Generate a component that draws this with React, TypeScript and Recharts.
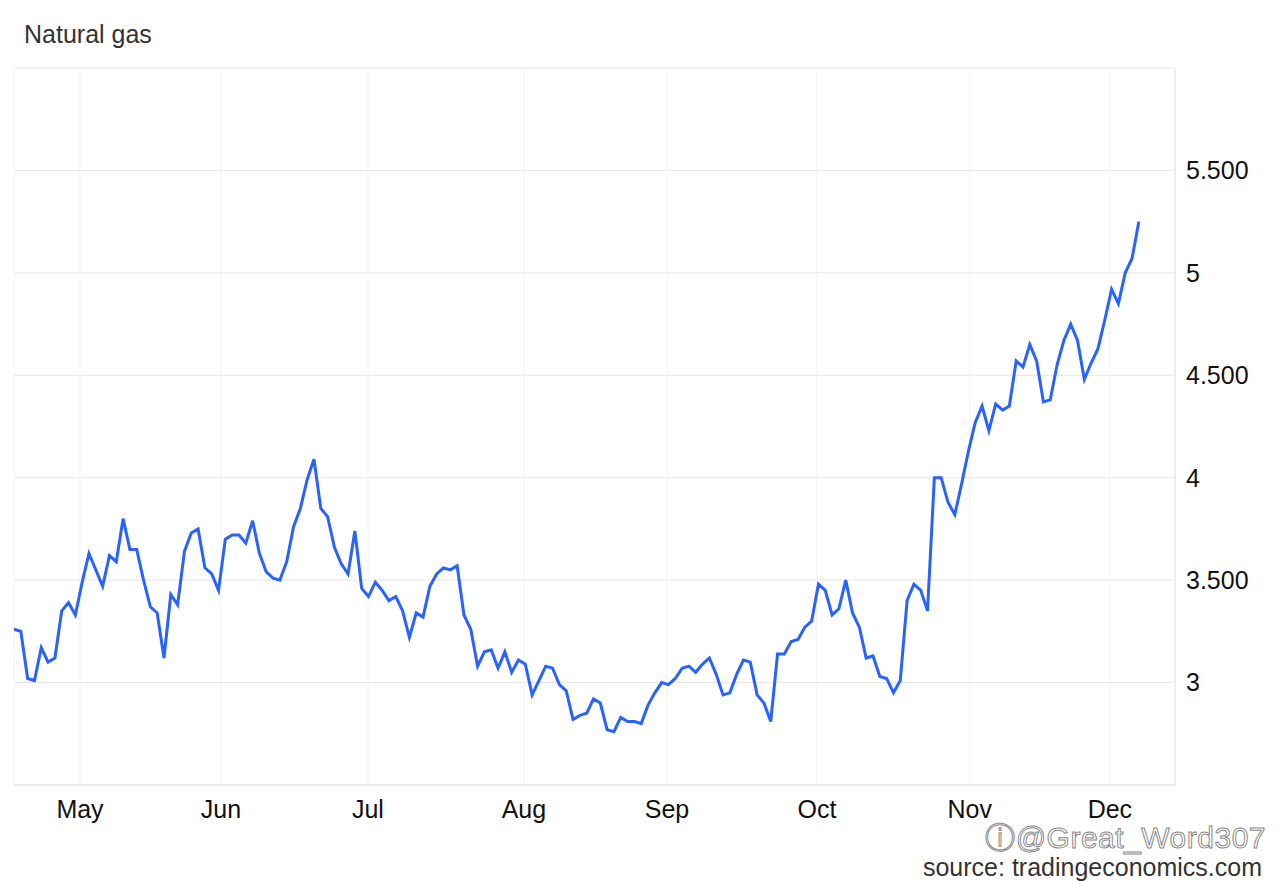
import React from 'react';
import { LineChart, Line, XAxis, YAxis, CartesianGrid } from 'recharts';

const prices: number[] = [
  3.26, 3.25, 3.02, 3.01, 3.17, 3.10, 3.12, 3.35, 3.39, 3.33,
  3.49, 3.63, 3.55, 3.47, 3.62, 3.59, 3.80, 3.65, 3.65, 3.50,
  3.37, 3.34, 3.12, 3.43, 3.38, 3.64, 3.73, 3.75, 3.56, 3.53,
  3.45, 3.70, 3.72, 3.72, 3.68, 3.79, 3.63, 3.54, 3.51, 3.50,
  3.59, 3.76, 3.85, 3.99, 4.09, 3.85, 3.81, 3.66, 3.58, 3.53,
  3.74, 3.46, 3.42, 3.49, 3.45, 3.40, 3.42, 3.35, 3.22, 3.34,
  3.32, 3.47, 3.53, 3.56, 3.55, 3.57, 3.33, 3.26, 3.08, 3.15,
  3.16, 3.07, 3.15, 3.05, 3.11, 3.09, 2.94, 3.01, 3.08, 3.07,
  2.99, 2.96, 2.82, 2.84, 2.85, 2.92, 2.90, 2.77, 2.76, 2.83,
  2.81, 2.81, 2.80, 2.89, 2.95, 3.00, 2.99, 3.02, 3.07, 3.08,
  3.05, 3.09, 3.12, 3.04, 2.94, 2.95, 3.04, 3.11, 3.10, 2.94,
  2.90, 2.81, 3.14, 3.14, 3.20, 3.21, 3.27, 3.30, 3.48, 3.45,
  3.33, 3.36, 3.50, 3.34, 3.27, 3.12, 3.13, 3.03, 3.02, 2.95,
  3.01, 3.40, 3.48, 3.45, 3.35, 4.00, 4.00, 3.88, 3.82, 3.97,
  4.13, 4.27, 4.35, 4.23, 4.36, 4.33, 4.35, 4.57, 4.54, 4.65,
  4.57, 4.37, 4.38, 4.55, 4.67, 4.75, 4.67, 4.48, 4.56, 4.63,
  4.77, 4.92, 4.85, 5.00, 5.07, 5.25,
];

const monthLabels: string[] = ['May', 'Jun', 'Jul', 'Aug', 'Sep', 'Oct', 'Nov', 'Dec'];
const monthTickPos: number[] = [9.68, 30.36, 51.92, 74.8, 95.78, 117.78, 140.2, 160.75];
const yTicks: number[] = [2.5, 3, 3.5, 4, 4.5, 5, 5.5, 6];
const xDomainMax = 170.3;

const data = prices.map((v, i) => ({ i, v }));

const fmtY = (v: number) => {
  if (v === 2.5 || v === 6) return '';
  return Number.isInteger(v) ? String(v) : v.toFixed(3);
};
const fmtX = (v: number) => {
  const k = monthTickPos.indexOf(v);
  return k >= 0 ? monthLabels[k] : '';
};

const font = 'Arial, "Liberation Sans", sans-serif';

export default function App() {
  return (
    <div style={{ position: 'absolute', left: 0, top: 0, width: 1280, height: 887, background: '#fff', fontFamily: font }}>
      <div style={{ position: 'absolute', left: 24, top: 22, fontSize: 25, lineHeight: 1, color: '#333' }}>Natural gas</div>
      <LineChart
        width={1280}
        height={887}
        data={data}
        margin={{ top: 68, right: 25, bottom: 72, left: 14 }}
      >
        <CartesianGrid stroke="#e6e6e6" strokeWidth={1} vertical={false} />
        <CartesianGrid stroke="#eef2f7" strokeWidth={1} horizontal={false} />
        <XAxis
          dataKey="i"
          type="number"
          domain={[0, xDomainMax]}
          ticks={monthTickPos}
          tickFormatter={fmtX}
          tickLine={false}
          axisLine={{ stroke: '#e0e0e0' }}
          tickMargin={9}
          height={30}
          tick={{ fill: '#111', fontSize: 25, fontFamily: font }}
          interval={0}
          allowDataOverflow
        />
        <YAxis
          orientation="right"
          type="number"
          domain={[2.5, 6]}
          ticks={yTicks}
          tickFormatter={fmtY}
          tickLine={false}
          axisLine={{ stroke: '#e0e0e0' }}
          tickMargin={5}
          width={80}
          tick={{ fill: '#111', fontSize: 25, fontFamily: font }}
          interval={0}
          allowDataOverflow
        />
        <Line
          type="linear"
          dataKey="v"
          stroke="#2962ff"
          strokeWidth={3}
          dot={false}
          isAnimationActive={false}
        />
      </LineChart>
      <div style={{ position: 'absolute', right: 14, top: 823, fontSize: 30, lineHeight: 1, color: '#fff', WebkitTextStroke: '1px #8a8a8a', letterSpacing: 0.5 }}>
        ⓘ@Great_Word307
      </div>
      <div style={{ position: 'absolute', right: 18, top: 855, fontSize: 25, lineHeight: 1, color: '#333' }}>source: tradingeconomics.com</div>
    </div>
  );
}
